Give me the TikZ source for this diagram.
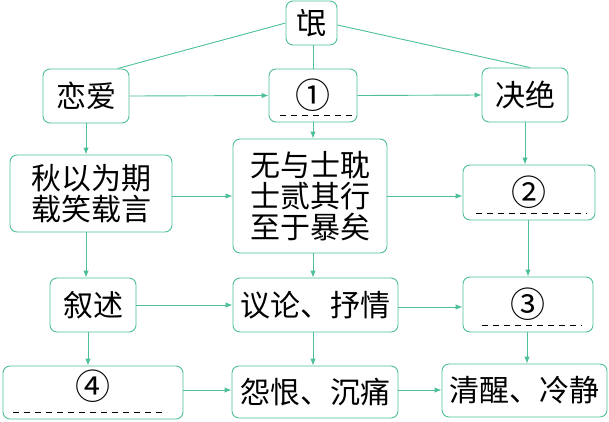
\documentclass[tikz,border=0pt]{standalone}
\usepackage{fontspec}
\setmainfont{Noto Sans CJK SC}
\usetikzlibrary{arrows.meta}
\definecolor{mangline}{RGB}{78,192,152}

\begin{document}
\begin{tikzpicture}[x=1pt,y=-1pt,
  box/.style={draw=mangline, line width=0.9pt, rounded corners=7pt, fill=white,
    inner sep=0pt, text centered, font=\fontsize{30}{31}\selectfont},
  numbox/.style={box, font=\fontsize{35}{35}\selectfont},
  link/.style={draw=mangline, line width=0.9pt},
  go/.style={link, -{Latex[length=7pt,width=5.5pt]}},
  blank/.style={black, line width=1pt, dash pattern=on 6pt off 5pt}]
\useasboundingbox (0,0) rectangle (609,421);
\path
(311.5,23) node [box, minimum width=51pt, minimum height=44pt] (mang) {氓}
(86,96) node [box, minimum width=86pt, minimum height=54pt] (lian) {恋爱}
(313,95.5) node [numbox, minimum width=88pt, minimum height=53pt] (n1) {①}
(525,95) node [box, minimum width=86pt, minimum height=54pt] (jue) {决绝}
(91,193.5) node [box, minimum width=162pt, minimum height=77pt, align=center] (qiu) {秋以为期\\载笑载言}
(310,196) node [box, minimum width=154pt, minimum height=114pt, align=center] (wu) {无与士耽\\士贰其行\\至于暴矣}
(529,192.5) node [numbox, minimum width=132pt, minimum height=55pt] (n2) {②}
(93,305) node [box, minimum width=86pt, minimum height=54pt] (xu) {叙述}
(315.5,305) node [box, minimum width=165pt, minimum height=54pt] (yi) {议论、抒情}
(528,304.5) node [numbox, minimum width=130pt, minimum height=55pt] (n3) {③}
(93,392.5) node [numbox, minimum width=180pt, minimum height=53pt, text depth=15pt] (n4) {④}
(315,392) node [box, minimum width=166pt, minimum height=52pt] (yuan) {怨恨、沉痛}
(524.5,390.5) node [box, minimum width=165pt, minimum height=53pt] (qing) {清醒、冷静};

% blanks to fill in
\draw[blank] (280,115) -- (353,115);
\draw[blank] (476,213) -- (587,213);
\draw[blank] (482,325) -- (582,325);
\draw[blank] (13,412) -- (167,412);

% from the title
\draw[link] (mang.west) -- ([xshift=-12pt]lian.north east);
\draw[link] ([yshift=-2pt]mang.east) -- ([xshift=5pt]jue.north);
\draw[link] (mang.south -| n1.north) -- (n1.north);

% rows
\draw[go] (lian.east) -- (n1.west);
\draw[go] (n1.east) -- (jue.west);
\draw[go] (qiu.east |- wu.west) -- (wu.west);
\draw[go] (wu.east) -- (wu.east -| n2.west);
\draw[go] (xu.east) -- (xu.east -| yi.west);
\draw[go] ([yshift=-2pt]yi.east) -- ([yshift=-2pt]yi.east -| n3.west);
\draw[go] ([yshift=2.5pt]n4.east) -- ([yshift=2.5pt]n4.east -| yuan.west);
\draw[go] ([yshift=2pt]yuan.east) -- ([yshift=2pt]yuan.east -| qing.west);

% columns
\draw[go] (lian.south) -- (lian.south |- qiu.north);
\draw[go] (lian.south |- qiu.south) -- (lian.south |- xu.north);
\draw[go] ([xshift=-5pt]xu.south) -- ([xshift=-5pt]xu.south |- n4.north);
\draw[go] (n1.south) -- (n1.south |- wu.north);
\draw[go] (n1.south |- wu.south) -- (n1.south |- yi.north);
\draw[go] (n1.south |- yi.south) -- (n1.south |- yuan.north);
\draw[go] (jue.south) -- (jue.south |- n2.north);
\draw[go] ([xshift=-1pt]n2.south) -- ([xshift=-1pt]n2.south |- n3.north);
\draw[go] ([xshift=-1pt]n3.south) -- ([xshift=-1pt]n3.south |- qing.north);
\end{tikzpicture}
\end{document}
